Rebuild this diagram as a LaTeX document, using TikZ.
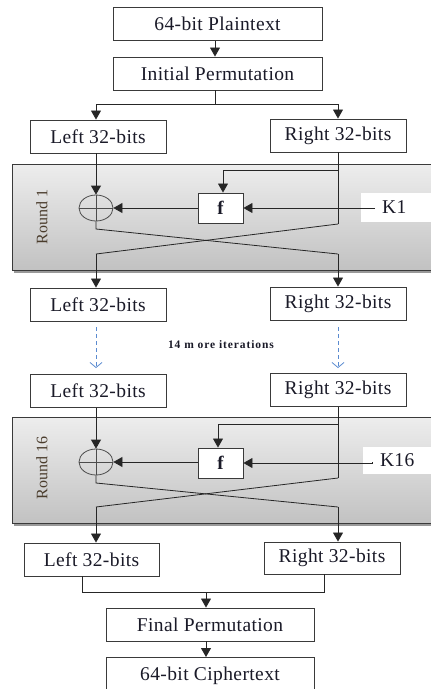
\documentclass[tikz,border=0pt]{standalone}
\usepackage{fontspec}
\setmainfont{Liberation Serif}
\usetikzlibrary{arrows.meta,shapes.geometric}
\definecolor{roundtxt}{HTML}{4A3C2C}
\definecolor{dashblue}{HTML}{5B8BD0}
\definecolor{boxedge}{HTML}{3A3A3A}
\definecolor{txt}{HTML}{1A1A28}
\tikzset{
  blk/.style={draw=boxedge,line width=0.9pt,fill=white,inner sep=0pt,text=txt,
    font=\fontsize{19.5}{21}\selectfont\addfontfeature{LetterSpace=2}},
  conn/.style={line width=0.8pt,draw=black!85},
  arr/.style={conn,-{Triangle[length=9pt,width=10pt]}},
  darr/.style={draw=dashblue,line width=0.8pt,dash pattern=on 4pt off 3pt,
    -{Straight Barb[length=5pt,width=12pt,line width=0.8pt]}},
  roundbox/.style={draw=boxedge,line width=0.9pt,top color=black!7,bottom color=black!24},
  roundlbl/.style={rotate=90,text=roundtxt,font=\fontsize{16}{18}\selectfont},
  xorc/.style={draw=black!70,line width=0.8pt,ellipse,minimum width=34pt,minimum height=26pt,inner sep=0pt},
  keybox/.style={fill=white,inner sep=0pt,minimum height=29pt,text=txt,
    font=\fontsize{19.5}{21}\selectfont\addfontfeature{LetterSpace=2}}
}
\begin{document}
\begin{tikzpicture}[x=1pt,y=-1pt]
\useasboundingbox (0,0) rectangle (431,689);
% shading backgrounds for rounds
\fill[black!40] (14,166) rectangle (445,272.5);
\path[roundbox] (12,164) rectangle (445,270);
\fill[black!40] (14,419) rectangle (445,525.5);
\path[roundbox] (12,417) rectangle (445,523);
\node[roundlbl] (r1) at (42,217) {Round 1};
\node[roundlbl] (r16) at (42,468) {Round 16};

% top part
\node[blk,minimum width=209pt,minimum height=33pt] (pt) at (217.5,24) {64-bit Plaintext};
\node[blk,minimum width=209pt,minimum height=33pt] (ip) at (217.5,73.5) {Initial Permutation};
\node[blk,minimum width=136pt,minimum height=33pt] (L1) at (98,136.5) {Left 32-bits};
\node[blk,minimum width=136pt,minimum height=33pt] (R1) at (338,135.5) {Right 32-bits};
\coordinate (xl) at (96,0);
\coordinate (xr) at (338,0);
\coordinate (split) at (215,104);
\draw[arr] (pt.south -| split) -- (ip.north -| split);
\draw[conn] (ip.south -| split) -- (split);
\draw[arr] (split) -| (L1.north -| xl);
\draw[arr] (split) -| (R1.north -| xr);

% round 1
\node[xorc] (x1) at (96,208) {};
\draw[black!70,line width=0.8pt] (x1.north) -- (x1.south) (x1.west) -- (x1.east);
\node[blk,minimum width=45pt,minimum height=30pt,font=\bfseries\fontsize{19}{21}\selectfont] (f1) at (220.5,208) {f};
\node[keybox,minimum width=72pt,anchor=west] (k1) at (361,207.5) {\hspace*{-6pt}K1};
\coordinate (k1s) at (375,208);
\coordinate (b1) at (338,170);
\coordinate (rc1) at (338,224);
\coordinate (lc1) at (96,229);
\coordinate (lo1) at (96,254);
\coordinate (ro1) at (338,254);
\node[blk,minimum width=136pt,minimum height=33pt] (L2) at (98,304.5) {Left 32-bits};
\node[blk,minimum width=136pt,minimum height=33pt] (R2) at (338,303.5) {Right 32-bits};
\draw[arr] (L1.south -| xl) -- (x1.north);
\draw[conn] (R1.south -| xr) -- (rc1);
\draw[arr] (b1) -| (f1.north -| 223,0);
\draw[arr] (k1s) -- (f1.east);
\draw[arr] (f1.west) -- (x1.east);
\draw[conn] (x1.south) -- (lc1) -- (ro1);
\draw[arr] (ro1) -- (R2.north -| xr);
\draw[conn] (rc1) -- (lo1);
\draw[arr] (lo1) -- (L2.north -| xl);

% iterations
\node[blk,minimum width=136pt,minimum height=33pt] (L3) at (98,391) {Left 32-bits};
\node[blk,minimum width=136pt,minimum height=33pt] (R3) at (338,390) {Right 32-bits};
\coordinate (d1a) at (96,327);
\coordinate (d1b) at (96,368);
\coordinate (d2a) at (338,327);
\coordinate (d2b) at (338,368);
\draw[darr] (d1a) -- (d1b);
\draw[darr] (d2a) -- (d2b);
\node[text=txt,font=\bfseries\fontsize{11.5}{13}\selectfont\addfontfeature{LetterSpace=8}] (it) at (221,345) {14 m ore iterations};

% round 16
\node[xorc] (x16) at (96,462) {};
\draw[black!70,line width=0.8pt] (x16.north) -- (x16.south) (x16.west) -- (x16.east);
\node[blk,minimum width=45pt,minimum height=30pt,font=\bfseries\fontsize{19}{21}\selectfont] (f16) at (220.5,463) {f};
\node[keybox,minimum width=72pt,minimum height=27pt,anchor=west] (k16) at (363,460.5) {\hspace*{-4pt}K16};
\coordinate (k16s) at (372,462);
\coordinate (b16) at (338,424);
\coordinate (rc16) at (338,478);
\coordinate (lc16) at (96,483);
\coordinate (lo16) at (96,507);
\coordinate (ro16) at (338,507);
\node[blk,minimum width=135pt,minimum height=33pt] (L4) at (91.5,559.5) {Left 32-bits};
\node[blk,minimum width=136pt,minimum height=32pt] (R4) at (332,558) {Right 32-bits};
\draw[arr] (L3.south -| xl) -- (x16.north);
\draw[conn] (R3.south -| xr) -- (rc16);
\draw[arr] (b16) -| (f16.north -| 218,0);
\draw[arr] (k16s) -- (f16.east -| k16s) -- (f16.east);
\draw[arr] (f16.west |- x16.east) -- (x16.east);
\draw[conn] (x16.south) -- (lc16) -- (ro16);
\draw[arr] (ro16) -- (R4.north -| xr);
\draw[conn] (rc16) -- (lo16);
\draw[arr] (lo16) -- (L4.north -| xl);

% bottom
\node[blk,minimum width=208pt,minimum height=33pt] (fp) at (210,624.5) {Final Permutation};
\node[blk,minimum width=208pt,minimum height=36pt,anchor=north] (ct) at (210,657) {\raisebox{4pt}{64-bit Ciphertext}};
\coordinate (ml) at (82,592);
\coordinate (mr) at (324,592);
\coordinate (mc) at (206,592);
\draw[conn] (L4.south -| ml) -- (ml) -- (mr) -- (R4.south -| mr);
\draw[arr] (mc) -- (fp.north -| mc);
\draw[arr] (fp.south -| mc) -- (ct.north -| mc);
\end{tikzpicture}
\end{document}
